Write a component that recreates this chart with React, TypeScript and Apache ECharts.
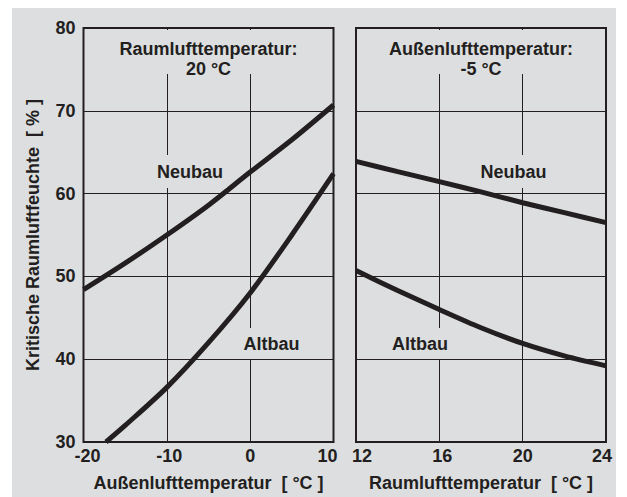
import React, { useEffect, useRef } from "react";
import * as echarts from "echarts";

// ---- data ----
const outdoorTicks = [-20, -10, 0, 10];
const indoorTicks = [12, 16, 20, 24];
const humidityTicks = [30, 40, 50, 60, 70, 80];

// left panel: indoor air temperature 20 °C, x = outdoor temperature
const neubauOutdoorX = [-20, -15, -10, -5, 0, 5, 10];
const neubauOutdoorY = [48.4, 51.6, 55.0, 58.6, 62.6, 66.5, 70.7];
const altbauOutdoorX = [-17.3, -15, -10, -5, 0, 5, 10];
const altbauOutdoorY = [30.0, 32.0, 36.6, 42.0, 48.0, 55.0, 62.4];

// right panel: outdoor air temperature -5 °C, x = indoor temperature
const indoorX = [12, 14, 16, 18, 20, 22, 24];
const neubauIndoorY = [63.9, 62.65, 61.45, 60.2, 58.9, 57.7, 56.5];
const altbauIndoorY = [50.7, 48.3, 46.0, 43.8, 41.9, 40.4, 39.2];

const leftTitle = "Raumlufttemperatur:\n20 °C";
const rightTitle = "Außenlufttemperatur:\n-5 °C";
const xNameLeft = "Außenlufttemperatur  [ °C ]";
const xNameRight = "Raumlufttemperatur  [ °C ]";
const yName = "Kritische Raumluftfeuchte  [ % ]";
const curveLabels = ["Neubau", "Altbau"];

const INK = "#231f20";
const BG = "#dddee0";
const FONT = "'Liberation Sans', Arial, Helvetica, sans-serif";

// label nudges (pixels of padding) to match reference placement
const labelPadLeft: Record<string, number> = { "-20": 8, "-10": 5, "12": 12, "16": 6 };
const labelPadRight: Record<string, number> = { "10": 12, "24": 8 };

const zip = (xs: number[], ys: number[]) => xs.map((x, i) => [x, ys[i]]);

export default function App() {
  const ref = useRef<HTMLDivElement>(null);

  useEffect(() => {
    if (!ref.current) return;
    const chart = echarts.init(ref.current, null, { renderer: "svg" });

    const baseText = { fontFamily: FONT, fontWeight: "bold" as const, fontSize: 18, color: INK };
    const rich: Record<string, any> = { n: { ...baseText } };
    Object.keys(labelPadLeft).forEach((k) => {
      rich["l" + k.replace("-", "m")] = { ...baseText, padding: [0, 0, 0, labelPadLeft[k]] };
    });
    Object.keys(labelPadRight).forEach((k) => {
      rich["r" + k.replace("-", "m")] = { ...baseText, padding: [0, labelPadRight[k], 0, 0] };
    });
    const xFormatter = (v: number) => {
      const k = String(v);
      if (labelPadLeft[k] !== undefined) return `{l${k.replace("-", "m")}|${k}}`;
      if (labelPadRight[k] !== undefined) return `{r${k.replace("-", "m")}|${k}}`;
      return `{n|${k}}`;
    };

    const gridBase = { top: 28, width: 250, height: 417, show: true, borderColor: INK, borderWidth: 2, backgroundColor: "transparent" };
    const splitLine = { show: true, lineStyle: { color: INK, width: 1 } };

    const xAxisCommon = {
      type: "value" as const,
      axisLine: { show: false },
      axisTick: { show: false },
      splitLine,
      axisLabel: { margin: 5, formatter: xFormatter, rich, ...baseText },
      nameLocation: "middle" as const,
      nameGap: 32,
      nameTextStyle: { ...baseText },
    };
    const yAxisCommon = {
      type: "value" as const,
      min: humidityTicks[0],
      max: humidityTicks[humidityTicks.length - 1],
      interval: humidityTicks[1] - humidityTicks[0],
      axisLine: { show: false },
      axisTick: { show: false },
      splitLine,
    };

    const lineSeries = (data: number[][], idx: number) => ({
      type: "line" as const,
      xAxisIndex: idx,
      yAxisIndex: idx,
      data,
      smooth: 0.3,
      showSymbol: false,
      silent: true,
      lineStyle: { color: INK, width: 5, cap: "butt" as const },
      z: 5,
    });

    const labelStyle = (text: string, x: number, y: number, pad: number[]) => ({
      type: "text" as const,
      z: 100,
      x,
      y,
      style: {
        text,
        font: `bold 18px ${FONT}`,
        fill: INK,
        align: "center",
        verticalAlign: "middle",
        lineHeight: 18,
        backgroundColor: BG,
        padding: pad,
      },
    });

    chart.setOption({
      animation: false,
      backgroundColor: "transparent",
      textStyle: { fontFamily: FONT },
      grid: [
        { ...gridBase, left: 83.5 },
        { ...gridBase, left: 356 },
      ],
      xAxis: [
        {
          ...xAxisCommon,
          gridIndex: 0,
          min: outdoorTicks[0],
          max: outdoorTicks[outdoorTicks.length - 1],
          interval: outdoorTicks[1] - outdoorTicks[0],
          name: xNameLeft,
        },
        {
          ...xAxisCommon,
          gridIndex: 1,
          min: indoorTicks[0],
          max: indoorTicks[indoorTicks.length - 1],
          interval: indoorTicks[1] - indoorTicks[0],
          name: xNameRight,
        },
      ],
      yAxis: [
        {
          ...yAxisCommon,
          gridIndex: 0,
          axisLabel: { margin: 8, ...baseText },
          name: yName,
          nameLocation: "middle",
          nameGap: 42,
          nameTextStyle: { ...baseText },
        },
        { ...yAxisCommon, gridIndex: 1, axisLabel: { show: false } },
      ],
      series: [
        lineSeries(zip(neubauOutdoorX, neubauOutdoorY), 0),
        lineSeries(zip(altbauOutdoorX, altbauOutdoorY), 0),
        lineSeries(zip(indoorX, neubauIndoorY), 1),
        lineSeries(zip(indoorX, altbauIndoorY), 1),
      ],
      graphic: [
        { type: "rect", z: 90, shape: { x: 85, y: 30, width: 247, height: 44 }, style: { fill: BG } },
        { type: "rect", z: 90, shape: { x: 357.5, y: 30, width: 247, height: 44 }, style: { fill: BG } },
        {
          type: "text",
          z: 100,
          x: 208.5,
          y: 39,
          style: { text: leftTitle, font: `bold 18px ${FONT}`, fill: INK, align: "center", verticalAlign: "top", lineHeight: 20 },
        },
        {
          type: "text",
          z: 100,
          x: 481,
          y: 39,
          style: { text: rightTitle, font: `bold 18px ${FONT}`, fill: INK, align: "center", verticalAlign: "top", lineHeight: 20 },
        },
        labelStyle(curveLabels[0], 190, 171.5, [10, 4, 5, 4]),
        labelStyle(curveLabels[1], 271.5, 343.5, [8, 4, 5, 4]),
        labelStyle(curveLabels[0], 513.5, 171.5, [10, 4, 5, 4]),
        labelStyle(curveLabels[1], 420, 343.5, [8, 4, 5, 4]),
      ],
    });

    return () => chart.dispose();
  }, []);

  return (
    <div style={{ position: "absolute", left: 0, top: 0, width: 627, height: 497, background: "#ffffff", overflow: "hidden" }}>
      <div style={{ position: "absolute", left: 12, top: 8, width: 604, height: 489, background: BG }} />
      <div ref={ref} style={{ position: "absolute", left: 0, top: 0, width: 627, height: 497 }} />
    </div>
  );
}
